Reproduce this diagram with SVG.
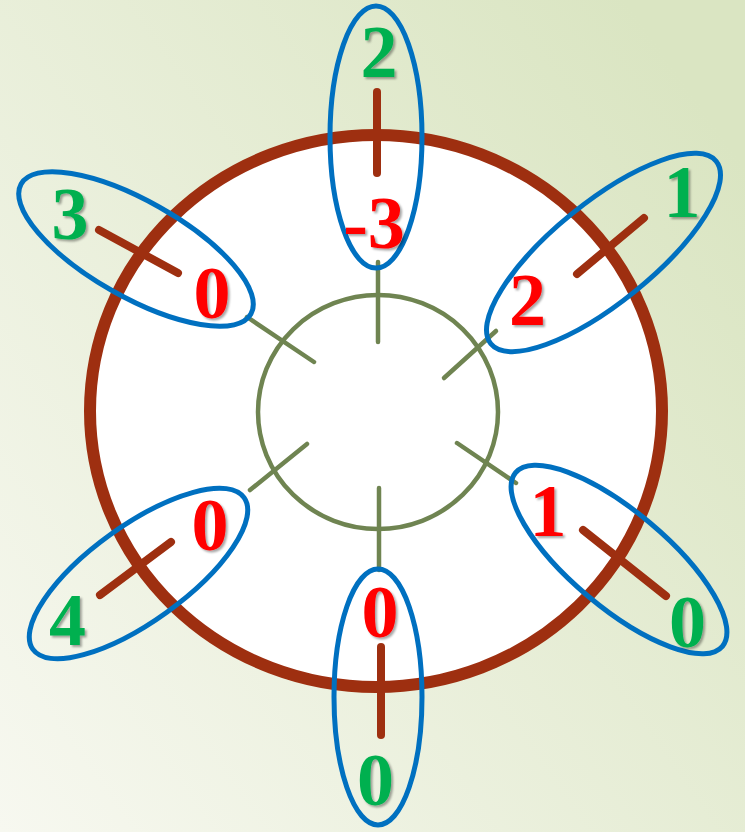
<svg xmlns="http://www.w3.org/2000/svg" width="745" height="832" viewBox="0 0 745 832">
<defs>
<linearGradient id="bg" x1="0" y1="1" x2="1" y2="0.2">
<stop offset="0" stop-color="#F7F8F0"/>
<stop offset="1" stop-color="#DAE5C2"/>
</linearGradient>
<filter id="sh" x="-20%" y="-20%" width="150%" height="150%">
<feDropShadow dx="2" dy="2" stdDeviation="1.2" flood-color="#000" flood-opacity="0.35"/>
</filter>
</defs>
<style>
.ring{fill:#FFFFFF;stroke:#9E2F10;stroke-width:12}
.inner{fill:none;stroke:#6F8451;stroke-width:4.5}
.spoke{stroke:#6F8451;stroke-width:4.5;stroke-linecap:round}
.tick{stroke:#9E2F10;stroke-width:8;stroke-linecap:round}
.oval{fill:none;stroke:#0070C0;stroke-width:5}
.t{font-family:"Liberation Serif","Times New Roman",serif;font-weight:bold;font-size:74px;text-anchor:middle;filter:url(#sh)}
.g{fill:#00B050}
.r{fill:#FF0000}
</style>
<rect x="0" y="0" width="745" height="832" fill="url(#bg)"/>
<g id="outer-ring"><ellipse class="ring" cx="376" cy="411" rx="286" ry="276"/></g>
<g id="inner-ring"><ellipse class="inner" cx="378" cy="412" rx="120" ry="117"/></g>
<g id="connectors">
<line class="spoke" x1="378" y1="262" x2="378" y2="342"/>
<line class="spoke" x1="379" y1="488" x2="379" y2="570"/>
<line class="spoke" x1="247" y1="317" x2="314" y2="362"/>
<line class="spoke" x1="444" y1="378" x2="496" y2="331"/>
<line class="spoke" x1="250" y1="490" x2="307" y2="444"/>
<line class="spoke" x1="457" y1="443" x2="516" y2="483"/>
</g>
<g id="node-top">
<line class="tick" x1="377" y1="92" x2="377" y2="173"/>
<ellipse class="oval" cx="376" cy="137" rx="46" ry="131"/>
<text class="t g" x="379" y="77">2</text>
<text class="t r" x="374" y="248">-3</text>
</g>
<g id="node-upper-left">
<line class="tick" x1="99" y1="230" x2="178" y2="273"/>
<ellipse class="oval" cx="136" cy="249" rx="132" ry="48" transform="rotate(29.5 136 249)"/>
<text class="t g" x="70" y="239">3</text>
<text class="t r" x="212" y="318">0</text>
</g>
<g id="node-upper-right">
<line class="tick" x1="577" y1="274" x2="644" y2="218"/>
<ellipse class="oval" cx="603.5" cy="252.5" rx="145" ry="50" transform="rotate(-39 603.5 252.5)"/>
<text class="t r" x="527.5" y="325">2</text>
<text class="t g" x="682" y="217">1</text>
</g>
<g id="node-lower-right">
<line class="tick" x1="583" y1="530" x2="666" y2="596"/>
<ellipse class="oval" cx="619" cy="559.5" rx="135" ry="48" transform="rotate(40 619 559.5)"/>
<text class="t r" x="548" y="536">1</text>
<text class="t g" x="687.5" y="647">0</text>
</g>
<g id="node-lower-left">
<line class="tick" x1="100" y1="595" x2="171" y2="542"/>
<ellipse class="oval" cx="138.5" cy="573.5" rx="130" ry="48" transform="rotate(-35.7 138.5 573.5)"/>
<text class="t r" x="210" y="550">0</text>
<text class="t g" x="67.5" y="645">4</text>
</g>
<g id="node-bottom">
<line class="tick" x1="381" y1="647" x2="381" y2="735"/>
<ellipse class="oval" cx="378" cy="697" rx="44" ry="128"/>
<text class="t r" x="380" y="637">0</text>
<text class="t g" x="375.5" y="805">0</text>
</g>
</svg>
